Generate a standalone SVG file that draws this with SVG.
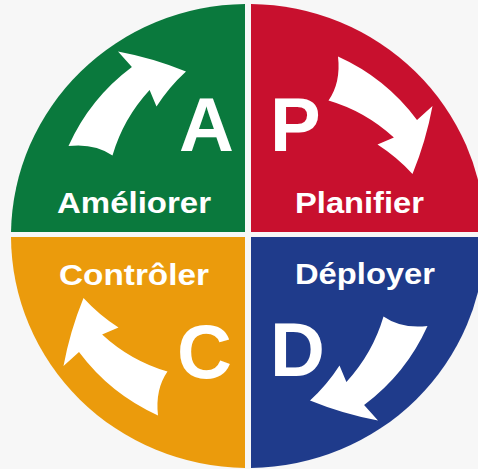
<svg xmlns="http://www.w3.org/2000/svg" xmlns:xlink="http://www.w3.org/1999/xlink" width="478" height="469" viewBox="0 0 478 469">
  <style>
    .lbl { font-family: "Liberation Sans", Arial, sans-serif; font-weight: bold; fill: #ffffff; font-size: 29px; }
    .big { font-family: "Liberation Sans", Arial, sans-serif; font-weight: bold; fill: #ffffff; font-size: 76px; }
    .arrow { fill: #ffffff; }
  </style>
  <defs>
    <path id="arrow" class="arrow" d="M68.5,146 A202,202 0 0 1 131.9,67 L118,51.5 Q153,58 186,71.5 Q169,87 156.5,106.5 L149.6,90.1 A165,165 0 0 0 112.5,155.5 Q94.6,143 68.5,146 Z"/>
  </defs>
  <rect width="478" height="469" fill="#f7f7f7"/>
  <g id="node-A">
    <path d="M245,232 L11,232 A237,232 0 0 1 245,4 Z" fill="#0a793d"/>
    <use xlink:href="#arrow" href="#arrow"/>
    <text class="big" x="179" y="151">A</text>
    <text class="lbl" x="134" y="213" text-anchor="middle" textLength="154" lengthAdjust="spacingAndGlyphs">Améliorer</text>
  </g>
  <g id="node-P">
    <path d="M251,232 L485,232 A237,232 0 0 0 251,4 Z" fill="#c8102e"/>
    <use xlink:href="#arrow" href="#arrow" transform="rotate(90 248 236)"/>
    <text class="big" x="270" y="151">P</text>
    <text class="lbl" x="359.5" y="213" text-anchor="middle" textLength="129" lengthAdjust="spacingAndGlyphs">Planifier</text>
  </g>
  <g id="node-D">
    <path d="M251,237 L485,237 A237,232 0 0 1 251,468 Z" fill="#1f3b8b"/>
    <use xlink:href="#arrow" href="#arrow" transform="rotate(180 248 236)"/>
    <text class="big" x="270" y="376">D</text>
    <text class="lbl" x="365" y="284" text-anchor="middle" textLength="140" lengthAdjust="spacingAndGlyphs">Déployer</text>
  </g>
  <g id="node-C">
    <path d="M245,237 L11,237 A237,232 0 0 0 245,468 Z" fill="#eb9b0c"/>
    <use xlink:href="#arrow" href="#arrow" transform="rotate(270 248 236)"/>
    <text class="big" x="177" y="378">C</text>
    <text class="lbl" x="134" y="285" text-anchor="middle" textLength="150" lengthAdjust="spacingAndGlyphs">Contrôler</text>
  </g>
  <g id="connectors"></g>
</svg>
